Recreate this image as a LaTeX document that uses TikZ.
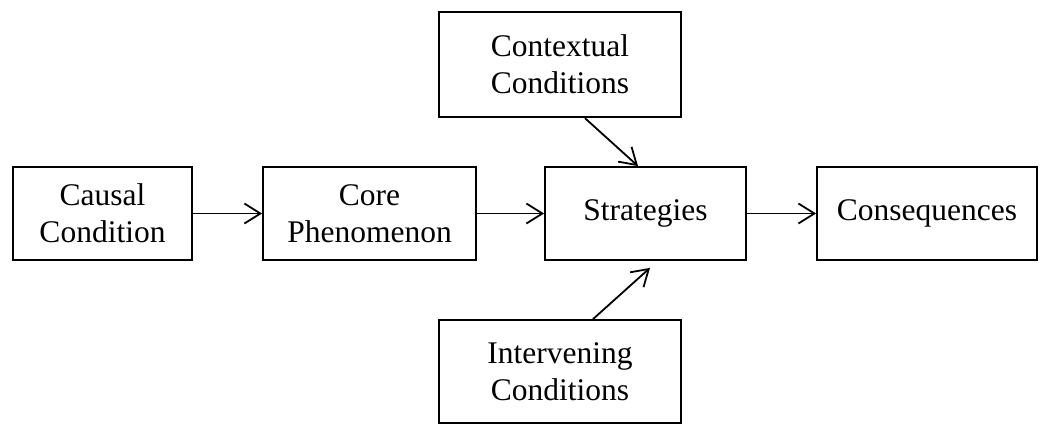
\documentclass[tikz,border=0pt]{standalone}
\usepackage{fontspec}
\setmainfont{Liberation Serif}
\usetikzlibrary{arrows.meta,calc}
\begin{document}
\begin{tikzpicture}[x=1pt,y=-1pt,
  box/.style={draw,line width=1.8pt,align=center,inner sep=0pt,
    font=\fontsize{31.5}{37}\selectfont},
  conn/.style={line width=1.8pt,-{Straight Barb[length=16pt,width=20pt,line width=1.8pt]}}]
\useasboundingbox (0,0) rectangle (1040,424);
\node[box,minimum width=179pt,minimum height=93pt] (cau) at (102.5,213.5) {Causal\\Condition};
\node[box,minimum width=213pt,minimum height=93pt] (core) at (369.5,213.5) {Core\\Phenomenon};
\node[box,minimum width=201pt,minimum height=93pt] (str) at (645.5,213.5) {Strategies};
\node[box,minimum width=220pt,minimum height=93pt] (con) at (927,213.5) {Consequences};
\node[box,minimum width=242pt,minimum height=105.6pt] (ctx) at (560,64.5) {Contextual\\Conditions};
\node[box,minimum width=242pt,minimum height=103pt] (int) at (560,371.5) {Intervening\\Conditions};
\draw[conn] (cau) -- (core);
\draw[conn] (core) -- (str);
\draw[conn] (str) -- (con);
\draw[conn] ($(ctx.south)+(25,0)$) -- ($(str.north)+(-7.5,0)$);
\draw[conn] ($(int.north)+(33,0)$) -- ($(str.south)+(4.5,7)$);
\end{tikzpicture}
\end{document}
